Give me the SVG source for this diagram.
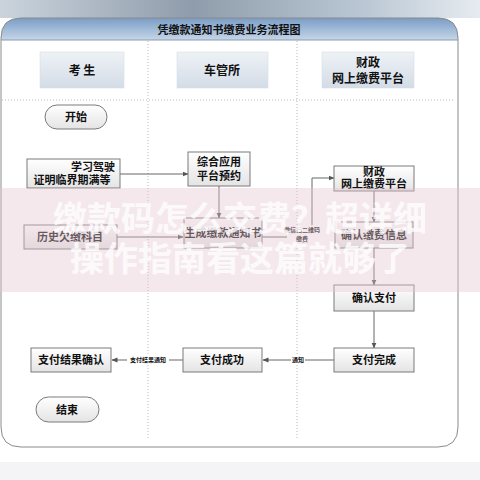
<svg xmlns="http://www.w3.org/2000/svg" width="480" height="480" viewBox="0 0 480 480">
<style>
.box{fill:url(#boxg);stroke:#7a7a7a;stroke-width:1}
.pill{fill:url(#boxg);stroke:#7a7a7a;stroke-width:1}
.hdr{fill:url(#hdrg);stroke:#d6dde4;stroke-width:0.6}
.t{font-family:"Noto Sans CJK SC","Noto Sans",sans-serif;font-weight:bold;font-size:11px;fill:#111;text-anchor:middle}
.th{font-family:"Noto Sans CJK SC","Noto Sans",sans-serif;font-weight:bold;font-size:12px;fill:#111;text-anchor:middle}
.lbl{font-family:"Noto Sans CJK SC","Noto Sans",sans-serif;font-weight:bold;font-size:6px;fill:#111;text-anchor:middle}
.conn{fill:none;stroke:#666;stroke-width:1;marker-end:url(#arr)}
.dot{stroke:#b8b8b8;stroke-width:1;stroke-dasharray:1 2;fill:none}
.wm{font-family:"Noto Sans CJK SC",sans-serif;font-weight:bold;font-size:34px;fill:#fff;fill-opacity:0.8;text-anchor:middle}
</style>
<defs>
<linearGradient id="topg" x1="0" y1="0" x2="1" y2="0">
<stop offset="0" stop-color="#cbd4dd"/>
<stop offset="0.4" stop-color="#8f9cab"/>
<stop offset="0.75" stop-color="#b9c6d3"/>
<stop offset="1" stop-color="#e6ebf0"/>
</linearGradient>
<linearGradient id="bandg" x1="0" y1="0" x2="0" y2="1">
<stop offset="0" stop-color="#7a9dc6"/>
<stop offset="1" stop-color="#c5d6e8"/>
</linearGradient>
<linearGradient id="boxg" x1="0" y1="0" x2="0" y2="1">
<stop offset="0" stop-color="#ffffff"/>
<stop offset="1" stop-color="#e4e4e4"/>
</linearGradient>
<linearGradient id="hdrg" x1="0" y1="0" x2="0" y2="1">
<stop offset="0" stop-color="#eef2f6"/>
<stop offset="1" stop-color="#d3dce6"/>
</linearGradient>
<marker id="arr" markerWidth="6" markerHeight="6" refX="5.5" refY="3" orient="auto" markerUnits="userSpaceOnUse">
<path d="M0,0.5 L6,3 L0,5.5 Z" fill="#555"/>
</marker>
</defs>
<rect x="0" y="0" width="480" height="480" fill="#ffffff"/>
<rect x="0" y="0" width="480" height="18" fill="url(#topg)"/>
<rect x="0" y="462" width="480" height="18" fill="#f4f4f6"/>
<g id="frame">
<path d="M1,40 V38 Q1,18 21,18 H438 Q458,18 458,38 V40 Z" fill="url(#bandg)"/>
<path d="M21,18 H438 Q458,18 458,38 V427 Q458,447 438,447 H21 Q1,447 1,427 V38 Q1,18 21,18 Z" fill="none" stroke="#8a8a8a" stroke-width="1"/>
<line x1="1" y1="40" x2="458" y2="40" stroke="#8a9aac" stroke-width="1"/>
<text x="229" y="34" class="t" font-size="11">凭缴款通知书缴费业务流程图</text>
<line x1="148" y1="41" x2="148" y2="440" class="dot"/>
<line x1="297" y1="41" x2="297" y2="440" class="dot"/>
<line x1="2" y1="100" x2="455" y2="100" class="dot"/>
</g>
<g id="col1"><rect x="40" y="52" width="84" height="36" class="hdr"/><text x="82" y="75" class="th">考 生</text></g>
<g id="col2"><rect x="177" y="52" width="91" height="36" class="hdr"/><text x="222" y="75" class="th">车管所</text></g>
<g id="col3"><rect x="322" y="52" width="92" height="36" class="hdr"/><text x="368" y="67" class="th">财政</text><text x="368" y="83" class="th">网上缴费平台</text></g>
<g id="connectors">
<path d="M120,174 H188" class="conn"/>
<path d="M219,186 V218" class="conn"/>
<path d="M117,237 H183" class="conn"/>
<path d="M262,237 H312 V178 H334" class="conn"/>
<path d="M374,191 V222" class="conn"/>
<path d="M374,248 V285" class="conn"/>
<path d="M374,311 V348" class="conn"/>
<path d="M334,360 H263" class="conn"/>
<path d="M183,360 H112" class="conn"/>
<rect x="287" y="225" width="30" height="18" fill="#fff"/>
<text x="302" y="232" class="lbl">微信扫二维码</text>
<text x="302" y="241" class="lbl">缴费</text>
<rect x="127" y="355" width="42" height="9" fill="#fff"/>
<text x="148" y="362" class="lbl">支付结果通知</text>
<rect x="291" y="355" width="14" height="9" fill="#fff"/>
<text x="298" y="362" class="lbl">通知</text>
</g>
<g id="start"><rect x="45" y="105" width="62" height="24" rx="12" class="pill"/><text x="76" y="121" class="t">开始</text></g>
<g id="n1"><rect x="27" y="159" width="93" height="29" class="box"/><text x="115" y="171" class="t" text-anchor="end" style="text-anchor:end">学习驾驶</text><text x="72" y="184" class="t">证明临界期满等</text></g>
<g id="n2"><rect x="188" y="152" width="62" height="34" class="box"/><text x="219" y="166" class="t">综合应用</text><text x="219" y="180" class="t">平台预约</text></g>
<g id="n3"><rect x="334" y="166" width="80" height="25" class="box"/><text x="374" y="176" class="t">财政</text><text x="374" y="188" class="t">网上缴费平台</text></g>
<g id="n4"><rect x="24" y="225" width="93" height="24" class="box"/><text x="70" y="241" class="t">历史欠缴科目</text></g>
<g id="n5"><rect x="184" y="218" width="78" height="30" class="box"/><text x="223" y="237" class="t">生成缴款通知书</text></g>
<g id="n6"><rect x="335" y="222" width="78" height="26" class="box"/><text x="374" y="239" class="t">确认缴费信息</text></g>
<g id="n7"><rect x="334" y="285" width="80" height="26" class="box"/><text x="374" y="302" class="t">确认支付</text></g>
<g id="n8"><rect x="334" y="348" width="80" height="24" class="box"/><text x="374" y="364" class="t">支付完成</text></g>
<g id="n9"><rect x="183" y="348" width="79" height="24" class="box"/><text x="222" y="364" class="t">支付成功</text></g>
<g id="n10"><rect x="31" y="348" width="80" height="24" class="box"/><text x="71" y="364" class="t">支付结果确认</text></g>
<g id="end"><rect x="36" y="397" width="63" height="25" rx="12.5" class="pill"/><text x="67" y="414" class="t">结束</text></g>
<g id="watermark">
<rect x="0" y="188" width="480" height="104" fill="#e6c6d3" fill-opacity="0.4"/>
<text x="240" y="231" class="wm">缴款码怎么交费？超详细</text>
<text x="240" y="271" class="wm">操作指南看这篇就够了</text>
</g>
</svg>
